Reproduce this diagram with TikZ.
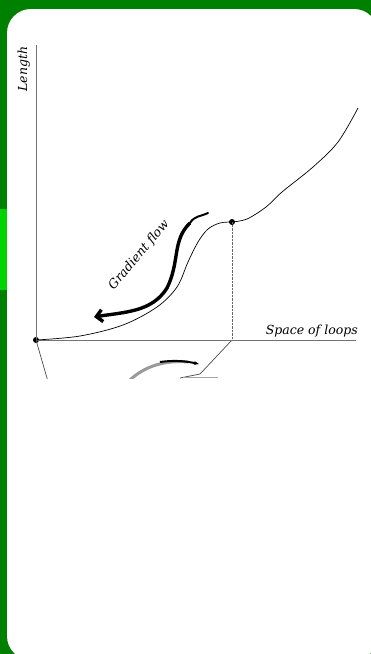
\documentclass[tikz,border=0pt]{standalone}
\usepackage{fontspec}
\newfontfamily\plotfont{DejaVu Serif}
\usepackage{tikz}
\usetikzlibrary{arrows.meta,calc}
\definecolor{bggreen}{HTML}{008000}
\definecolor{lightgreen}{HTML}{00D400}
\tikzset{
  axis/.style={draw=black!55,line width=0.8pt},
  lossline/.style={draw=black,line width=0.7pt},
  dot/.style={circle,fill=black,inner sep=0pt,minimum size=6pt},
  lbl/.style={font=\plotfont\itshape\fontsize{12.5}{14}\selectfont,inner sep=1pt}
}
\begin{document}
\begin{tikzpicture}[x=1pt,y=-1pt,>=Stealth]
\useasboundingbox (0,0) rectangle (371,654);
\fill[bggreen] (0,0) rectangle (371,654);
\fill[lightgreen] (0,209) rectangle (7,290);
\fill[white,rounded corners=24pt] (7,9) rectangle (378,660);
% axes
\coordinate (top) at (36,45);
\coordinate (right) at (356,340);
\node[dot] (o) at (36,340) {};
\draw[axis] (top) -- (o.center) -- (right);
\node[lbl,rotate=90,anchor=south] (ylab) at (31,69) {Length};
\node[lbl,anchor=south east] (xlab) at (359,338) {Space of loops};
% the loss curve
\node[dot] (m) at (232,222) {};
\draw[lossline] plot[smooth,tension=0.55] coordinates {(36,340) (80,336) (123,325) (157,307) (177,287) (188,262) (198,242) (208,229) (220,223) (232,222)};
\draw[lossline] plot[smooth,tension=0.55] coordinates {(232,222) (247,219) (266,207) (282,192) (313,167) (338,142) (358,108)};
\coordinate (mfoot) at (232,340);
\draw[densely dotted,black!60] (m.center) -- (mfoot);
% gradient flow
\coordinate (gs) at (208,213);
\coordinate (gm) at (190,223);
\coordinate (ge) at (94,317);
\draw[line width=2pt,line cap=round] (gs) to[out=205,in=60] (gm);
\draw[line width=3.4pt,-{Straight Barb[length=6pt,width=12pt]}] (gm) .. controls (172,240) and (180,262) .. (167,288) .. controls (152,312) and (125,312) .. (ge);
\node[lbl,rotate=50] (glab) at (139,255) {Gradient flow};
% clipped part below the axis
\begin{scope}
\clip (0,341) rectangle (371,378);
\draw[black!70,line width=0.7pt] (o.center) -- (49,385);
\draw[black!70,line width=0.7pt] (mfoot) -- (200,374) -- (180,378);
\draw[black!35,line width=0.6pt] (183,377) -- (218,377);
\draw[black!40,line width=3pt] (130,380) .. controls (145,366) and (165,360) .. (188,362);
\draw[black,line width=2pt,-{Stealth[length=5pt]}] (160,362) .. controls (175,360) and (185,361) .. (199,364);
\end{scope}
\end{tikzpicture}
\end{document}
